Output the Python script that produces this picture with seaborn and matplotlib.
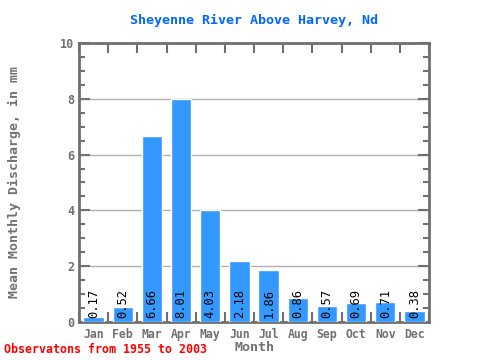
import seaborn as sns
import matplotlib.pyplot as plt
import pandas as pd
from matplotlib.ticker import MultipleLocator

months = ["Jan", "Feb", "Mar", "Apr", "May", "Jun", "Jul", "Aug", "Sep", "Oct", "Nov", "Dec"]
discharge = [0.17, 0.52, 6.66, 8.01, 4.03, 2.18, 1.86, 0.86, 0.57, 0.69, 0.71, 0.38]
value_labels = ["0.17", "0.52", "6.66", "8.01", "4.03", "2.18", "1.86", "0.86", "0.57", "0.69", "0.71", "0.38"]

df = pd.DataFrame({"Month": months, "Discharge": discharge})

sns.set_style("white")
plt.rcParams["font.family"] = ["DejaVu Sans Mono"]
gray = "#707070"

fig = plt.figure(figsize=(4.8, 3.6), dpi=100)
ax = fig.add_axes([0.1646, 0.1056, 0.7292, 0.775])

sns.barplot(data=df, x="Month", y="Discharge", color="#3399FF", saturation=1,
            width=0.7, ax=ax, zorder=3)

ax.set_ylim(0, 10)
ax.set_xlim(-0.5, 11.5)
ax.yaxis.set_major_locator(MultipleLocator(2))
ax.yaxis.set_minor_locator(MultipleLocator(0.5))
ax.grid(axis="y", which="major", color="#b0b0b0", linewidth=1, zorder=0)

for s in ax.spines.values():
    s.set_color(gray)
    s.set_linewidth(2)

ax.tick_params(axis="y", which="major", direction="in", length=8, width=1.5, color=gray,
               labelcolor=gray, labelsize=8.5, left=True, right=True)
ax.tick_params(axis="y", which="minor", direction="in", length=4, width=1.5, color=gray,
               left=True, right=True)
# category separators on top/bottom
ax.set_xticks(range(12))
ax.set_xticklabels(months)
ax.set_xticks([i + 0.5 for i in range(-1, 12)], minor=True)
ax.tick_params(axis="x", which="major", length=0, labelcolor=gray, labelsize=8.3, pad=4)
ax.tick_params(axis="x", which="minor", direction="in", length=7, width=1.5, color=gray,
               top=True, bottom=True)
for lab in ax.get_xticklabels() + ax.get_yticklabels():
    lab.set_fontweight("bold")

for i, txt in enumerate(value_labels):
    ax.text(i, 0.14, txt, rotation=90, ha="center", va="bottom", fontsize=8.7,
            color="black", zorder=4)

ax.set_xlabel("Month", color=gray, fontsize=9.6, fontweight="bold", labelpad=0)
ax.set_ylabel("Mean Monthly Discharge, in mm", color=gray, fontsize=9.5, fontweight="bold", labelpad=28)
ax.set_title("Sheyenne River Above Harvey, Nd", color="#0066FF", fontsize=9.6,
             fontweight="bold", pad=14)
fig.text(0.008, 0.01, "Observatons from 1955 to 2003", color="red", fontsize=8.4,
         fontweight="bold", ha="left", va="bottom")

fig.savefig("out.png", dpi=100)
